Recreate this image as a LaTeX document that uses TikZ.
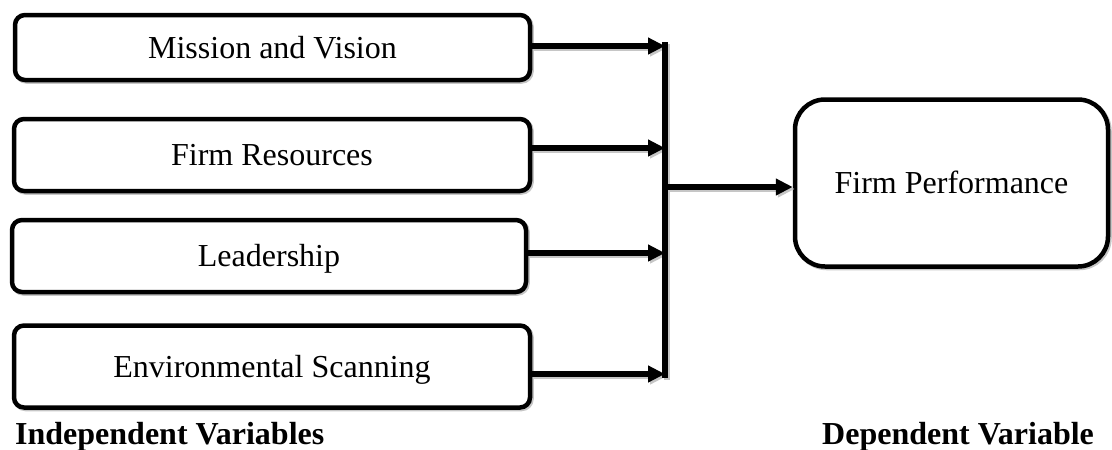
\documentclass[tikz,border=0pt]{standalone}
\usepackage{fontspec}
\setmainfont{Liberation Serif}
\usetikzlibrary{arrows.meta,shadows}
\begin{document}
\begin{tikzpicture}[x=1pt,y=1pt,
  box/.style={draw, line width=4.5pt, rounded corners=10pt, fill=white,
    font=\fontsize{32}{38}\selectfont, inner sep=0pt, text height=21pt, text depth=0pt,
    drop shadow={opacity=1, fill=none, draw=gray!45, shadow xshift=1.5pt, shadow yshift=-1.5pt}},
  bigbox/.style={box, rounded corners=30pt},
  conn/.style={line width=5.5pt, -{Triangle[length=17pt,width=16pt]}},
  conn shade/.style={conn, draw=gray!45, transform canvas={shift={(2pt,-2pt)}}},
  bar/.style={line width=5.5pt},
  lab/.style={font=\fontsize{32}{38}\selectfont\bfseries, anchor=base west, inner sep=0pt}
]
\useasboundingbox (0,0) rectangle (1112,-450);

\node[box, minimum width=515, minimum height=65] (m1) at (272.5,-47.5) {Mission and Vision};
\node[box, minimum width=516, minimum height=72] (m2) at (272,-155) {Firm Resources};
\node[box, minimum width=514, minimum height=72] (m3) at (269,-256) {Leadership};
\node[box, minimum width=516, minimum height=82] (m4) at (272,-366.5) {Environmental Scanning};
\node[bigbox, minimum width=313, minimum height=167] (fp) at (951.5,-183) {Firm Performance};

\coordinate (bt) at (665,-42);
\coordinate (bb) at (665,-378);
\coordinate (b1) at (665,-46);
\coordinate (b2) at (665,-148);
\coordinate (b3) at (665,-253);
\coordinate (b4) at (665,-374);
\coordinate (j) at (665,-187);

% shadows of connectors
\draw[bar, draw=gray!45, transform canvas={shift={(2pt,-2pt)}}] (bt) -- (bb);
\draw[conn shade] (m1.east |- b1) -- (b1);
\draw[conn shade] (m2.east |- b2) -- (b2);
\draw[conn shade] (m3.east |- b3) -- (b3);
\draw[conn shade] (m4.east |- b4) -- (b4);
\draw[conn shade] (j) -- (fp.west |- j);

% connectors
\draw[bar] (bt) -- (bb);
\draw[conn] (m1.east |- b1) -- (b1);
\draw[conn] (m2.east |- b2) -- (b2);
\draw[conn] (m3.east |- b3) -- (b3);
\draw[conn] (m4.east |- b4) -- (b4);
\draw[conn] (j) -- (fp.west |- j);

\node[lab] (iv) at (15,-444) {Independent Variables};
\node[lab] (dv) at (822,-444) {Dependent Variable};
\end{tikzpicture}
\end{document}
